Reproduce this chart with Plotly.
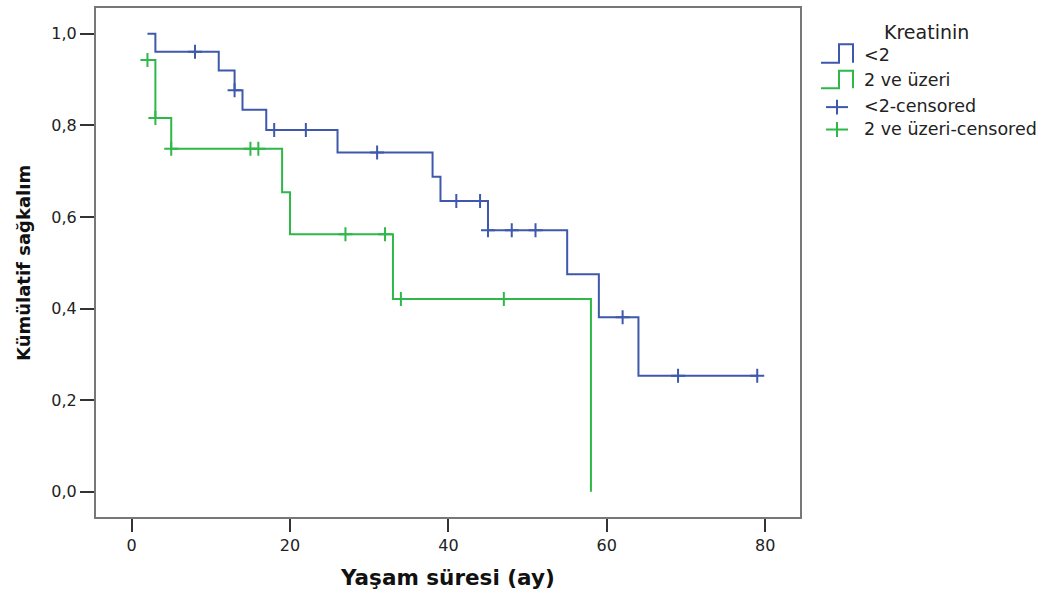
import plotly.graph_objects as go

# ---- data ----
blue_name = "<2"
green_name = "2 ve üzeri"
legend_title = "Kreatinin"

blue_time = [2, 3, 11, 13, 14, 17, 26, 38, 39, 45, 55, 59, 64, 79]
blue_surv = [1.0, 0.961, 0.920, 0.877, 0.834, 0.790, 0.741, 0.688, 0.635, 0.571, 0.475, 0.381, 0.253, 0.253]
blue_cens_time = [8, 13, 18, 22, 31, 41, 44, 45, 48, 51, 62, 69, 79]

green_time = [2, 3, 5, 19, 20, 33, 58]
green_surv = [0.943, 0.816, 0.749, 0.654, 0.562, 0.421, 0.0]
green_cens_time = [2, 3, 5, 15, 16, 27, 32, 34, 47]

x_ticks = [0, 20, 40, 60, 80]
y_ticks = [0.0, 0.2, 0.4, 0.6, 0.8, 1.0]
y_ticklabels = ["0,0", "0,2", "0,4", "0,6", "0,8", "1,0"]

x_title = "Yaşam süresi (ay)"
y_title = "Kümülatif sağkalım"

BLUE = "rgb(62,88,172)"
GREEN = "rgb(46,184,72)"
FONT = "DejaVu Sans"


def step_value(times, survs, t):
    v = survs[0]
    for ti, si in zip(times, survs):
        if ti <= t:
            v = si
    return v


blue_cens_surv = [step_value(blue_time, blue_surv, t) for t in blue_cens_time]
green_cens_surv = [step_value(green_time, green_surv, t) for t in green_cens_time]

fig = go.Figure()
fig.add_trace(go.Scatter(x=blue_time, y=blue_surv, mode="lines", line_shape="hv",
                         line=dict(color=BLUE, width=2), name=blue_name, showlegend=False))
fig.add_trace(go.Scatter(x=green_time, y=green_surv, mode="lines", line_shape="hv",
                         line=dict(color=GREEN, width=2), name=green_name, showlegend=False))
fig.add_trace(go.Scatter(x=blue_cens_time, y=blue_cens_surv, mode="markers",
                         marker=dict(symbol="cross-thin", size=10, line=dict(color=BLUE, width=2)),
                         name=blue_name + "-censored", showlegend=False))
fig.add_trace(go.Scatter(x=green_cens_time, y=green_cens_surv, mode="markers",
                         marker=dict(symbol="cross-thin", size=10, line=dict(color=GREEN, width=2)),
                         name=green_name + "-censored", showlegend=False))

W, H = 1046, 599
L, R, T, B = 96, 246, 6, 82


def px(x):
    return (x - L) / (W - L - R)


def py(y):
    return (H - B - y) / (H - T - B)


shapes = []
annotations = []

# legend: step icons
for (ybot, ytop, col) in [(61, 42.5, BLUE), (86.5, 69, GREEN)]:
    pts = [(821, ybot), (839, ybot), (839, ytop), (853, ytop), (853, ybot)]
    path = "M " + " L ".join(f"{px(a)},{py(b)}" for a, b in pts)
    shapes.append(dict(type="path", path=path, xref="paper", yref="paper",
                       line=dict(color=col, width=2)))
# legend: plus markers
for (yc, col) in [(105.5, BLUE), (128, GREEN)]:
    shapes.append(dict(type="line", xref="paper", yref="paper", x0=px(826), x1=px(848),
                       y0=py(yc), y1=py(yc), line=dict(color=col, width=2)))
    shapes.append(dict(type="line", xref="paper", yref="paper", x0=px(837), x1=px(837),
                       y0=py(yc - 7.5), y1=py(yc + 7.5), line=dict(color=col, width=2)))

annotations.append(dict(text=legend_title, x=px(926), y=py(30), xref="paper", yref="paper",
                        showarrow=False, xanchor="center", yanchor="middle",
                        font=dict(family=FONT, size=19, color="#222")))
for (label, yc) in [(blue_name, 53), (green_name, 78), (blue_name + "-censored", 104),
                    (green_name + "-censored", 127)]:
    annotations.append(dict(text=label, x=px(862), y=py(yc), xref="paper", yref="paper",
                            showarrow=False, xanchor="left", yanchor="middle",
                            font=dict(family=FONT, size=17.5, color="#222")))

# axis titles
annotations.append(dict(text="<b>" + x_title + "</b>", x=px(447), y=py(578), xref="paper", yref="paper",
                        showarrow=False, xanchor="center", yanchor="middle",
                        font=dict(family=FONT, size=21.5, color="#111")))
annotations.append(dict(text="<b>" + y_title + "</b>", x=px(24), y=py(262), xref="paper", yref="paper",
                        showarrow=False, xanchor="center", yanchor="middle", textangle=-90,
                        font=dict(family=FONT, size=18, color="#111")))

fig.update_layout(
    width=W, height=H,
    margin=dict(l=L, r=R, t=T, b=B, pad=0),
    paper_bgcolor="white", plot_bgcolor="white",
    font=dict(family=FONT, size=16, color="#222"),
    shapes=shapes, annotations=annotations,
    showlegend=False,
)
fig.update_xaxes(range=[-4.5, 84.4], tickvals=x_ticks, ticks="outside", ticklen=13, tickwidth=2,
                 tickcolor="#333", showline=True, linecolor="#777", linewidth=2, mirror=True,
                 showgrid=False, zeroline=False, tickfont=dict(size=16, family=FONT, color="#222"))
fig.update_yaxes(range=[-0.0554, 1.0565], tickvals=y_ticks, ticktext=y_ticklabels, ticks="outside",
                 ticklen=14, tickwidth=2, tickcolor="#333", showline=True, linecolor="#777",
                 linewidth=2, mirror=True, showgrid=False, zeroline=False,
                 tickfont=dict(size=16, family=FONT, color="#222"))

fig.write_html("out.html", config={"displayModeBar": False},
               post_script="document.body.style.margin='0';")
